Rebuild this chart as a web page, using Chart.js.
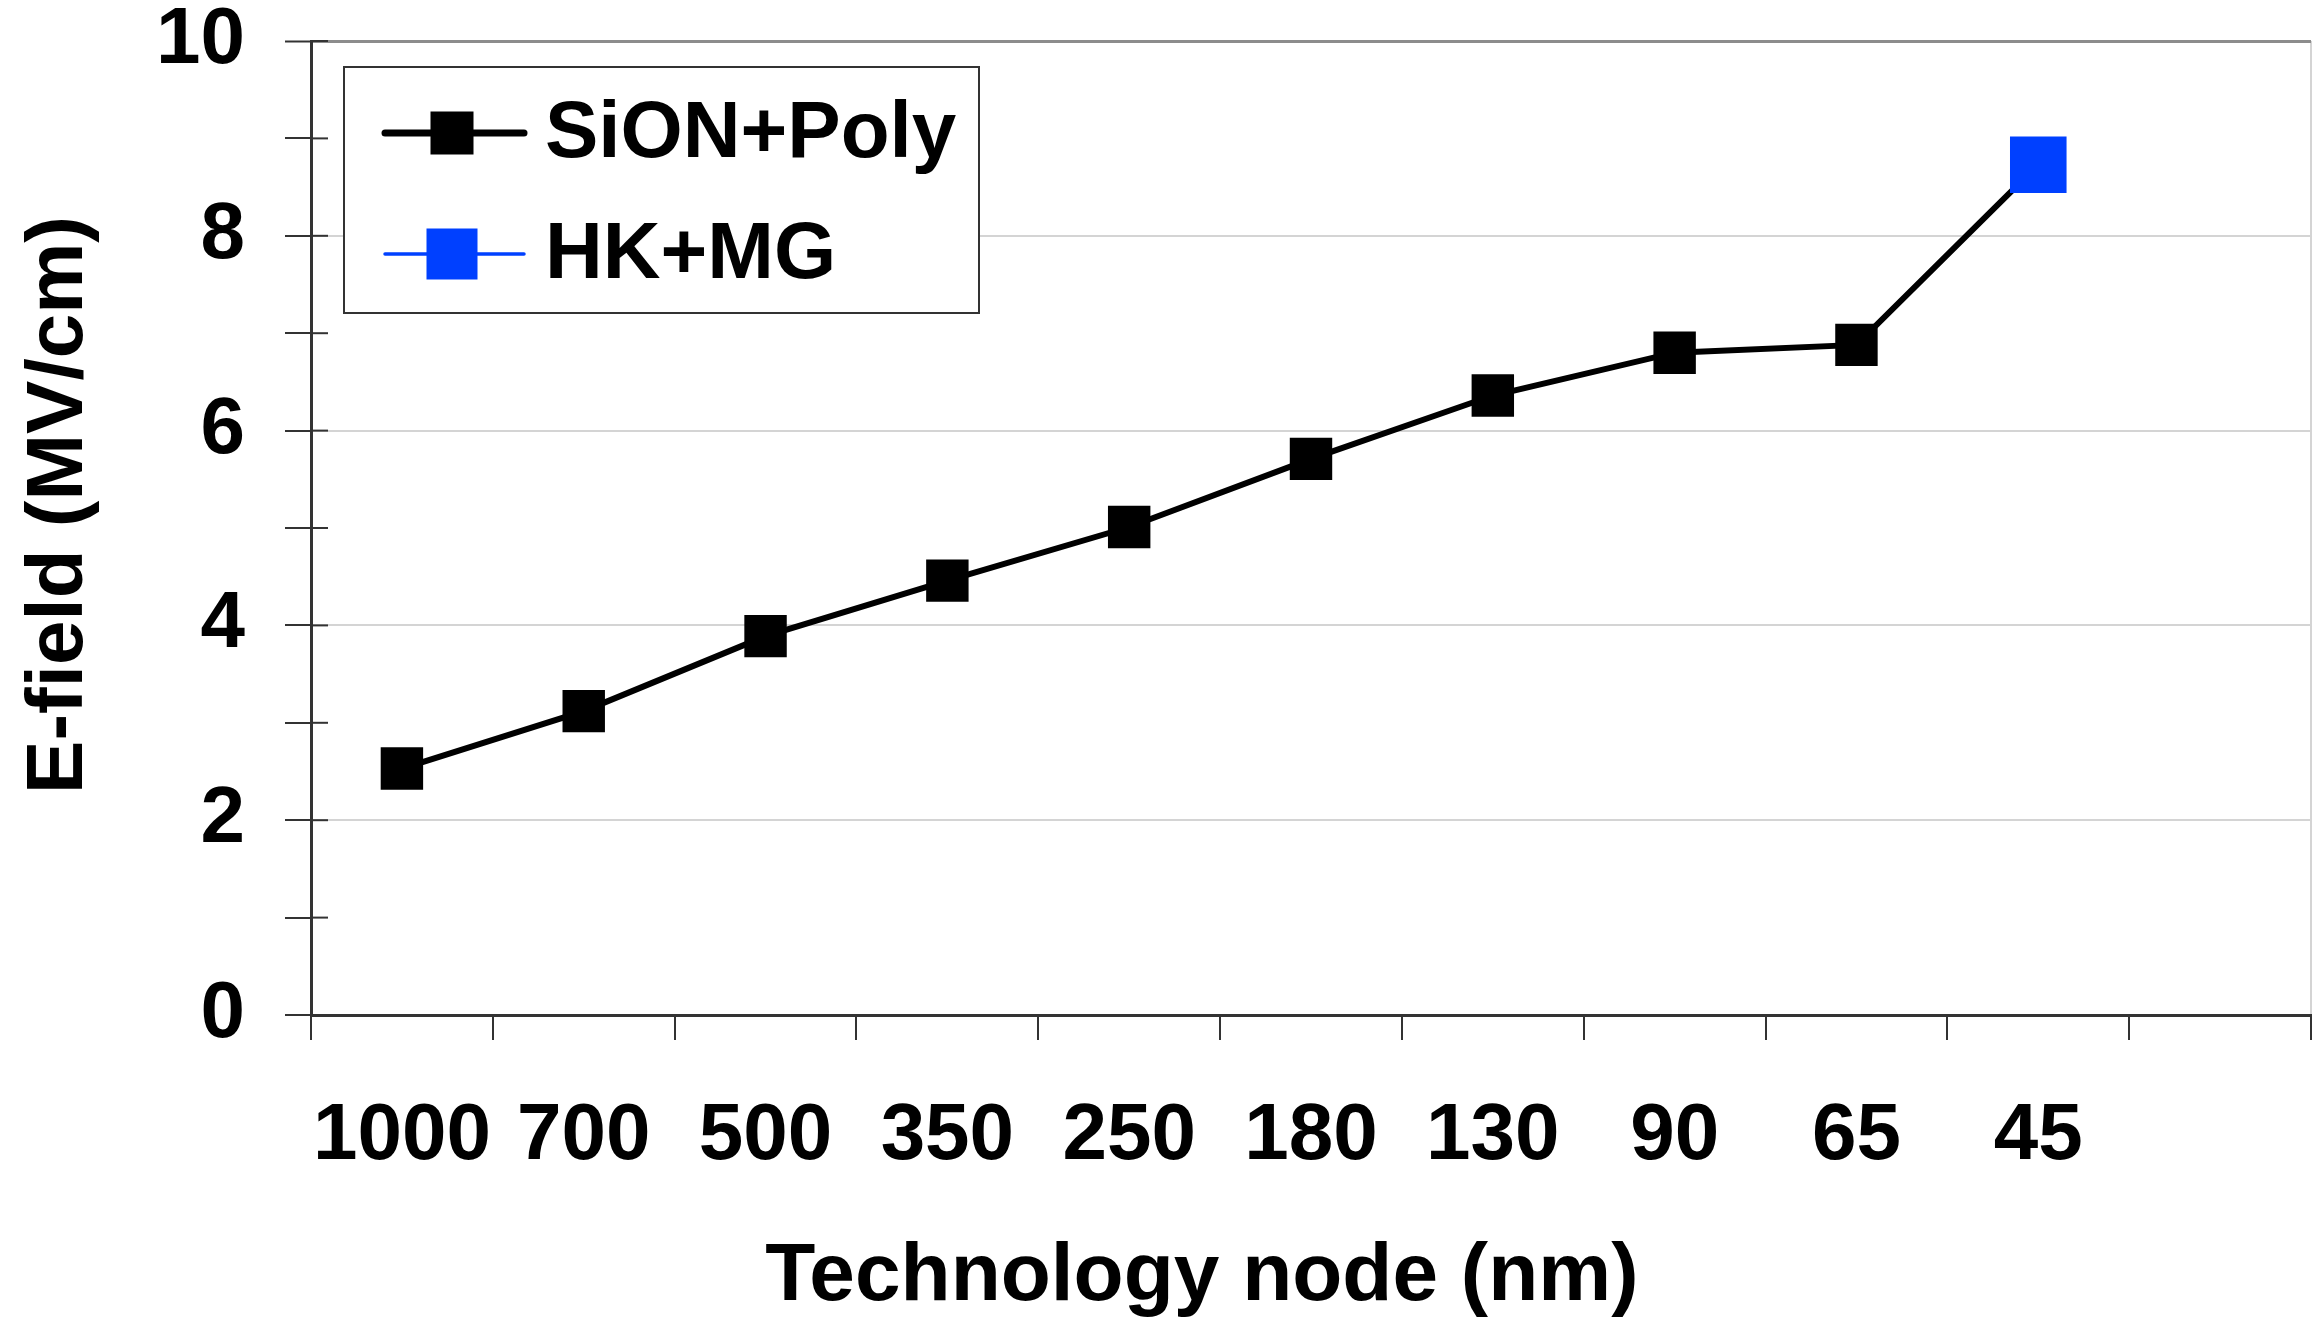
<!DOCTYPE html>
<html>
<head>
<meta charset="utf-8">
<script src="https://cdn.jsdelivr.net/npm/chart.js@4"></script>
<style>
  body { margin: 0; background: #fff; overflow: hidden; }
  canvas { display: block; }
</style>
</head>
<body>
<canvas id="myChart" width="2313" height="1318"></canvas>
<script>
// data
const nodes = ['1000', '700', '500', '350', '250', '180', '130', '90', '65', '45', ''];
const sionPoly = [2.53, 3.12, 3.89, 4.46, 5.01, 5.71, 6.36, 6.80, 6.88, 8.73, null];
const hkMg = [null, null, null, null, null, null, null, null, null, 8.73, null];
const yTicks = [0, 2, 4, 6, 8, 10];

const blue = '#0040ff';
Chart.defaults.font.family = "'Liberation Sans', Arial, sans-serif";
Chart.defaults.font.weight = 'bold';
Chart.defaults.color = '#000';

// titles, legend box and the little inner tick stubs
const extras = {
    id: 'extras',
    afterDraw(chart) {
        const ctx = chart.ctx;
        const x = chart.scales.x, y = chart.scales.y;
        const area = chart.chartArea;
        ctx.save();

        // inner halves of the y ticks
        ctx.strokeStyle = '#333';
        ctx.lineWidth = 2;
        for (let v = 0; v <= 10; v++) {
            const py = y.getPixelForValue(v);
            ctx.beginPath();
            ctx.moveTo(area.left, py);
            ctx.lineTo(area.left + 17, py);
            ctx.stroke();
        }

        // axis titles
        ctx.fillStyle = '#000';
        ctx.font = "bold 82px 'Liberation Sans', Arial, sans-serif";
        ctx.textAlign = 'center';
        ctx.textBaseline = 'alphabetic';
        ctx.fillText('Technology node (nm)', x.getPixelForValue(4.4), 1300);

        ctx.font = "bold 80px 'Liberation Sans', Arial, sans-serif";
        ctx.translate(82, 505);
        ctx.rotate(-Math.PI / 2);
        ctx.fillText('E-field (MV/cm)', 0, 0);
        ctx.setTransform(1, 0, 0, 1, 0, 0);

        // legend
        ctx.fillStyle = '#fff';
        ctx.fillRect(344, 67, 635, 246);
        ctx.strokeStyle = '#333';
        ctx.lineWidth = 2;
        ctx.strokeRect(344, 67, 635, 246);

        const sizes = [43, 51];
        const widths = [7, 3.5];
        chart.data.datasets.forEach((ds, i) => {
            const ly = 133 + i * 121;
            ctx.strokeStyle = ds.pointBackgroundColor;
            ctx.lineWidth = widths[i];
            ctx.lineCap = 'round';
            ctx.beginPath();
            ctx.moveTo(385, ly);
            ctx.lineTo(524, ly);
            ctx.stroke();
            ctx.fillStyle = ds.pointBackgroundColor;
            ctx.fillRect(452 - sizes[i] / 2, ly - sizes[i] / 2, sizes[i], sizes[i]);
            ctx.fillStyle = '#000';
            ctx.font = "bold 80px 'Liberation Sans', Arial, sans-serif";
            ctx.textAlign = 'left';
            ctx.fillText(ds.label, 545, ly + 24);
        });
        ctx.restore();
    }
};

let myChart = document.getElementById('myChart').getContext('2d');

let efieldChart = new Chart(myChart, {
    type: 'line',
    data: {
        labels: nodes,
        datasets: [
            {
                label: 'SiON+Poly',
                data: sionPoly,
                borderColor: '#000',
                borderWidth: 6,
                pointStyle: 'rect',
                pointRadius: sionPoly.map((v, i) => i === 9 ? 0 : 30),
                pointBackgroundColor: '#000',
                pointBorderWidth: 0,
                order: 1
            },
            {
                label: 'HK+MG',
                data: hkMg,
                showLine: false,
                borderColor: blue,
                pointStyle: 'rect',
                pointRadius: 40,
                pointBackgroundColor: blue,
                pointBorderWidth: 0,
                order: 0
            }
        ]
    },
    options: {
        responsive: false,
        animation: false,
        layout: { autoPadding: false, padding: { top: 41, right: 2, left: 0, bottom: 0 } },
        plugins: {
            legend: { display: false },
            tooltip: { enabled: false }
        },
        scales: {
            x: {
                offset: true,
                border: { color: '#333', width: 3 },
                grid: {
                    offset: true,
                    color: c => c.type === 'scale' ? '#d4d4d4' : 'rgba(0,0,0,0)',
                    lineWidth: 2,
                    tickColor: '#333',
                    tickWidth: 2,
                    tickLength: 25
                },
                ticks: {
                    autoSkip: false,
                    maxRotation: 0,
                    padding: 49,
                    font: { size: 80, weight: 'bold', lineHeight: 1.2 }
                },
                afterFit(s) {
                    s.height = 303;
                    s.paddingLeft = 0;
                    s.paddingRight = 0;
                }
            },
            y: {
                min: 0,
                max: 10,
                border: { color: '#333', width: 3 },
                grid: {
                    color: c => {
                        const v = c.tick ? c.tick.value : -1;
                        if (v === 10) return '#8c8c8c';
                        if (v > 0 && v % 2 === 0) return '#d4d4d4';
                        return 'rgba(0,0,0,0)';
                    },
                    lineWidth: c => (c.tick && c.tick.value === 10) ? 3 : 2,
                    tickColor: '#333',
                    tickWidth: 2,
                    tickLength: 26
                },
                ticks: {
                    stepSize: 1,
                    padding: 40,
                    font: { size: 80, weight: 'bold', lineHeight: 1 },
                    callback: v => yTicks.includes(v) ? v : ''
                },
                afterFit(s) {
                    s.width = 311;
                    s.paddingTop = 0;
                    s.paddingBottom = 0;
                }
            }
        }
    },
    plugins: [extras]
});
</script>
</body>
</html>
